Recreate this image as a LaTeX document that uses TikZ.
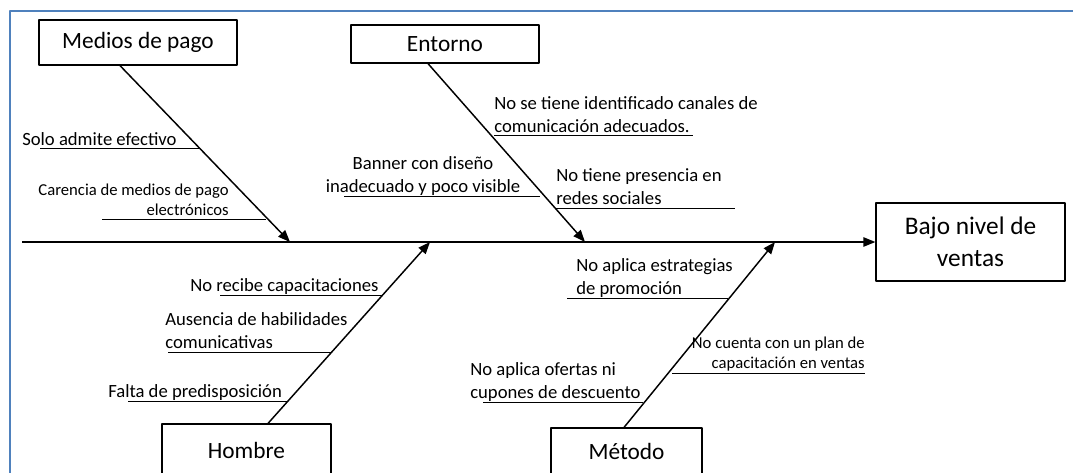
\documentclass[tikz,border=0pt]{standalone}
\usepackage{fontspec}
\setmainfont{Carlito}
\usetikzlibrary{arrows.meta,calc}
\definecolor{marco}{RGB}{79,129,189}
\tikzset{
  causa/.style={draw,line width=0.9pt,inner sep=0pt,font=\fontsize{17.5}{21}\selectfont},
  rama/.style={line width=1.1pt,-{Triangle[length=9pt,width=7pt]}},
  sub/.style={line width=0.7pt},
  txt/.style={inner sep=0pt,font=\fontsize{14}{17.2}\selectfont},
  txtp/.style={inner sep=0pt,font=\fontsize{12.5}{14.3}\selectfont},
}
\begin{document}
\begin{tikzpicture}[x=0.75pt,y=-0.75pt, line join=round]
    \useasboundingbox (0,0) rectangle (1073,472);
    \clip (0,0) rectangle (1073,472);
    \draw[marco,line width=1.5pt] (10,11) rectangle (1090,490); % marco
    % cajas
    \node[causa,minimum width=148.5pt,minimum height=33.75pt] (medios) at (138,42.5) {Medios de pago};
    \node[causa,minimum width=141pt,minimum height=28.5pt] (entorno) at (445,44) {Entorno};
    \node[causa,minimum width=126.75pt,minimum height=39pt] (hombre) at (246.5,450) {Hombre};
    \node[causa,minimum width=113.25pt,minimum height=34.5pt] (metodo) at (626.5,451) {Método};
    \node[causa,minimum width=141.75pt,minimum height=58.5pt,align=center,
          font=\fontsize{19}{24}\selectfont] (efecto) at (970.5,242) {Bajo nivel de\\ventas};
    % espina
    \coordinate (ini) at (22,242);
    \coordinate (p1) at (290,242); \coordinate (p2) at (585,242);
    \coordinate (p3) at (430,242); \coordinate (p4) at (775,242);
    \draw[rama] (ini) -- (efecto.west);
    \draw[rama] ($(medios.south)+(-18,0)$) -- (p1);
    \draw[rama] ($(entorno.south)+(-17,0)$) -- (p2);
    \draw[rama] ($(hombre.north)+(21.5,0)$) -- (p3);
    \draw[rama] ($(metodo.north)+(-2.5,0)$) -- (p4);
    % subcausas (base = ultima linea)
    \node[txt,anchor=base west] (c1) at (22,145) {Solo admite efectivo};
    \draw[sub] (40,148) -- (200,148);
    \node[txtp,anchor=base east,align=right] (c2) at (229,215) {Carencia de medios de pago\\electrónicos};
    \draw[sub] (102,219) -- (266,219);
    \node[txt,anchor=base west,align=left] (c3) at (494,132) {No se tiene identificado canales de\\comunicación adecuados.};
    \draw[sub] (494,135) -- (693,135);
    \node[txt,anchor=base,align=center] (c4) at (423,192) {Banner con diseño\\inadecuado y poco visible};
    \draw[sub] (344,196) -- (540,196);
    \node[txt,anchor=base west,align=left] (c5) at (556,204) {No tiene presencia en\\redes sociales};
    \draw[sub] (555,208) -- (735,208);
    \node[txt,anchor=base west] (c6) at (190,291) {No recibe capacitaciones};
    \draw[sub] (220,295) -- (383,295);
    \node[txt,anchor=base west,align=left] (c7) at (165,348) {Ausencia de habilidades\\comunicativas};
    \draw[sub] (168,352) -- (332,352);
    \node[txt,anchor=base west] (c8) at (108,397) {Falta de predisposición};
    \draw[sub] (128,401) -- (287,401);
    \node[txt,anchor=base west,align=left] (c9) at (576,294) {No aplica estrategias\\de promoción};
    \draw[sub] (567,298) -- (728,298);
    \node[txtp,anchor=base east,align=right] (c10) at (865,368) {No cuenta con un plan de\\capacitación en ventas};
    \draw[sub] (672,373) -- (865,373);
    \node[txt,anchor=base west,align=left] (c11) at (470,398) {No aplica ofertas ni\\cupones de descuento};
    \draw[sub] (483,402) -- (643,402);
\end{tikzpicture}
\end{document}
